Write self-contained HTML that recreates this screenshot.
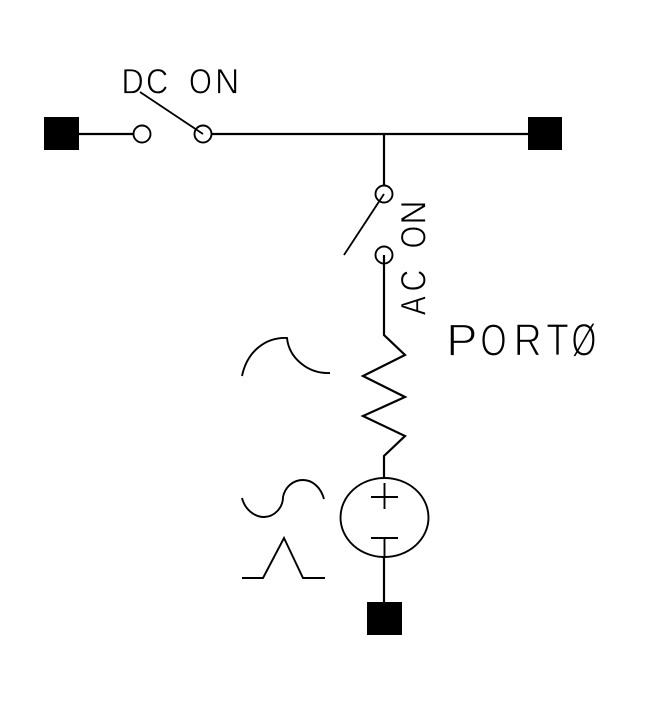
<!DOCTYPE html>
<html><head><meta charset="utf-8"><style>html,body{margin:0;padding:0;background:#fff}svg{display:block}text{font-family:"Liberation Sans",sans-serif;fill:#000;stroke:#fff}.s{font-size:35px;stroke-width:.7px}.b{font-size:45px;stroke-width:1.2px}</style></head>
<body><svg width="657" height="709" viewBox="0 0 657 709" xmlns="http://www.w3.org/2000/svg">
<rect width="657" height="709" fill="#fff"/>
<g fill="#000"><rect x="44" y="117" width="35" height="33"/><rect x="528" y="117" width="34" height="33"/><rect x="367" y="602" width="35" height="33"/></g>
<g fill="none" stroke="#000" stroke-width="2.2">
<path d="M79 134H134M211 134H528M384 134V186M384 255V335L405 355L363 376L405 397L363 416L405 436L384 456V478M384 557V602"/>
<path stroke-width="1.8" d="M140 92L203 134M384 194L344 255"/>
<g stroke-width="1.9"><circle cx="142" cy="134" r="8.5"/><circle cx="203" cy="134" r="8.5"/><circle cx="384" cy="194" r="8.5"/><circle cx="384" cy="255" r="8.5"/><ellipse cx="384.500" cy="517.500" rx="44" ry="39.500"/>
<path d="M371 497H398M384.500 483V509M371 538H398M384.500 538V557"/>
<path d="M242 376C247 352 265 337 287 338C289 358 308 374 330 373"/>
<path d="M242 498C245 510 255 517 264 517C274 517 283 508 283 497C285 487 293 480 303 480C313 480 321 488 324 499"/>
<path d="M242 578H263L284 538L303 578H325"/></g></g>
<g class="s">
<text class="s" transform="translate(121.500 93.500) scale(.88 1)">D</text>
<text class="s" transform="translate(146 93.500) scale(.88 1)">C</text>
<text class="s" transform="translate(189 93.500) scale(.84 1)">O</text>
<text class="s" transform="translate(215 93.500) scale(.96 1)">N</text>
</g>
<text class="b" transform="translate(446.200 355.500) scale(1.04 1)">P</text>
<text class="b" transform="translate(480.400 355.500) scale(.75 1)">O</text>
<text class="b" transform="translate(513.800 355.500) scale(.86 1)">R</text>
<text class="b" transform="translate(546.300 355.500) scale(.82 1)">T</text>
<text class="b" transform="translate(571.500 355.500) scale(.71 1)">Ø</text>
<g transform="translate(425.500 316) rotate(-90)">
<text class="s" transform="translate(.8 0) scale(.82 1)">A</text>
<text class="s" transform="translate(24.500 0) scale(.86 1)">C</text>
<text class="s" transform="translate(67.600 0) scale(.83 1)">O</text>
<text class="s" transform="translate(91.400 0) scale(.96 1)">N</text>
</g>
</svg></body></html>
